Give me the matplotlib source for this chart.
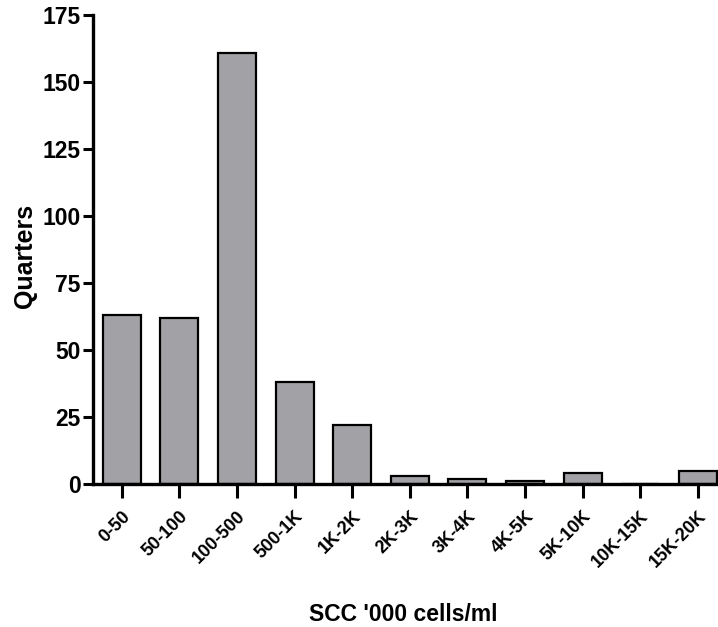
import numpy as np
import matplotlib.pyplot as plt

# SCC bands ('000 cells/ml) and number of quarters in each
bands = ["0-50", "50-100", "100-500", "500-1K", "1K-2K", "2K-3K",
         "3K-4K", "4K-5K", "5K-10K", "10K-15K", "15K-20K"]
quarters = [63, 62, 161, 38, 22, 3, 2, 1, 4, 0, 5]
yticks = [0, 25, 50, 75, 100, 125, 150, 175]

plt.rcParams['font.family'] = ['Liberation Sans', 'DejaVu Sans']
plt.rcParams['font.weight'] = 'bold'

fig = plt.figure(figsize=(7.18, 6.27), dpi=100)
ax = fig.add_axes([0.1295, 0.228, 0.8825, 0.748])

x = np.arange(len(bands))
ax.bar(x, quarters, width=0.66, color='#a2a2a6', edgecolor='black', linewidth=1.6)

ax.set_xlim(-0.5, len(bands) - 0.5)
ax.set_ylim(0, 175)
ax.set_yticks(yticks)
ax.set_xticks(x)
ax.set_xticklabels(bands, rotation=45, ha='right', rotation_mode='anchor',
                   fontsize=13, fontweight='bold')
ax.tick_params(axis='y', labelsize=16.5, width=2.2, length=7, pad=2)
ax.tick_params(axis='x', width=2.2, length=10, pad=7)

for side in ['top', 'right']:
    ax.spines[side].set_visible(False)
for side in ['left', 'bottom']:
    ax.spines[side].set_linewidth(2.4)

ax.set_xlabel("SCC '000 cells/ml", fontsize=16.5, fontweight='bold')
ax.xaxis.set_label_coords(0.489, -0.278)
ax.xaxis.label.set_va('center')
ax.set_ylabel("Quarters", fontsize=18, fontweight='bold')
ax.yaxis.set_label_coords(-0.107, 0.486)
ax.yaxis.label.set_va('center')

plt.savefig("out.png", dpi=100)
